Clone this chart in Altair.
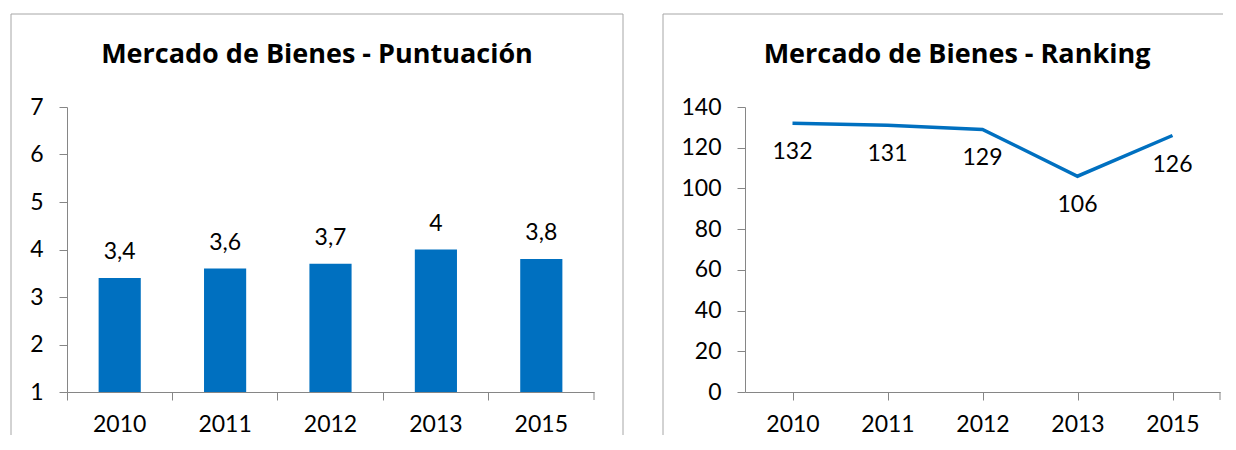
import altair as alt
import pandas as pd

years = ["2010", "2011", "2012", "2013", "2015"]
puntuacion = [3.4, 3.6, 3.7, 4.0, 3.8]
ranking = [132, 131, 129, 106, 126]
title_left = "Mercado de Bienes - Puntuación"
title_right = "Mercado de Bienes - Ranking"
y_left_ticks = [1, 2, 3, 4, 5, 6, 7]
y_right_ticks = [0, 20, 40, 60, 80, 100, 120, 140]

FONT = "Lato"
TITLE_FONT = "Open Sans"
BLUE = "#0070C0"
GRAY = "#868686"
BORDER = "#A6A6A6"

W1, W2, H = 527, 475, 285

df1 = pd.DataFrame({"year": years, "v": puntuacion})
df2 = pd.DataFrame({"year": years, "v": ranking})
one = pd.DataFrame({"a": [0]})


def x_enc():
    return alt.X(
        "year:N",
        sort=years,
        scale=alt.Scale(paddingInner=0, paddingOuter=0),
        axis=alt.Axis(title=None, bandPosition=0, labelAngle=0,
                      labelPadding=13, tickSize=8),
    )


def frame(x_left, x_right, top, bottom, x_top_end):
    parts = [
        alt.Chart(one).mark_rule(color=BORDER, strokeWidth=1).encode(
            x=alt.value(x_left), x2=alt.value(x_top_end), y=alt.value(top)),
        alt.Chart(one).mark_rule(color=BORDER, strokeWidth=1).encode(
            x=alt.value(x_left), y=alt.value(top), y2=alt.value(bottom)),
    ]
    if x_right is not None:
        parts.append(alt.Chart(one).mark_rule(color=BORDER, strokeWidth=1).encode(
            x=alt.value(x_right), y=alt.value(top), y2=alt.value(bottom)))
    return parts


def end_tick(w):
    return alt.Chart(one).mark_rule(color=GRAY).encode(
        x=alt.value(w), y=alt.value(H), y2=alt.value(H + 8))


def title_mark(t, cx):
    return alt.Chart(pd.DataFrame({"t": [t]})).mark_text(
        font=TITLE_FONT, fontSize=27, fontWeight="bold", align="center",
        baseline="alphabetic", color="black").encode(
        x=alt.value(cx), y=alt.value(-44), text="t:N")


# Left: bars
base1 = alt.Chart(df1).transform_calculate(
    label="replace(toString(datum.v), '.', ',')")
yl = alt.Y("v:Q", scale=alt.Scale(domain=[1, 7], nice=False, zero=False),
           axis=alt.Axis(title=None, values=y_left_ticks, tickSize=8, labelPadding=16))
bars = base1.mark_bar(color=BLUE, width=alt.RelativeBandSize(0.4)).encode(
    x=x_enc(), y=yl, y2=alt.datum(1))
bar_text = base1.mark_text(font=FONT, fontSize=23, dy=-26, color="black").encode(
    x=alt.X("year:N", sort=years), y="v:Q", text="label:N")

left = alt.layer(
    *frame(-56, 556, -93, 328, 556), bars, bar_text, end_tick(W1),
    title_mark(title_left, 250)
).properties(width=W1, height=H)

# Right: line
base2 = alt.Chart(df2)
yr = alt.Y("v:Q", scale=alt.Scale(domain=[0, 140], nice=False),
           axis=alt.Axis(title=None, values=y_right_ticks, tickSize=8, labelPadding=16))
line = base2.mark_line(color=BLUE, strokeWidth=3.5).encode(x=x_enc(), y=yr)
line_text = base2.mark_text(font=FONT, fontSize=23, dy=29, color="black").encode(
    x=alt.X("year:N", sort=years), y="v:Q", text="v:Q")

right = alt.layer(
    *frame(-82, None, -93, 328, 478), line, line_text, end_tick(W2),
    title_mark(title_right, 212)
).properties(width=W2, height=H)

chart = alt.hconcat(left, right, spacing=151, bounds="flush").properties(
    padding={"left": 2, "top": 5, "right": 0, "bottom": 0}
).configure_view(stroke=None).configure_axis(
    grid=False, domainColor=GRAY, tickColor=GRAY, labelColor="black",
    labelFont=FONT, labelFontSize=23, domainWidth=1, tickWidth=1
)

chart.save("out.html", embed_options={"renderer": "svg", "actions": False})
